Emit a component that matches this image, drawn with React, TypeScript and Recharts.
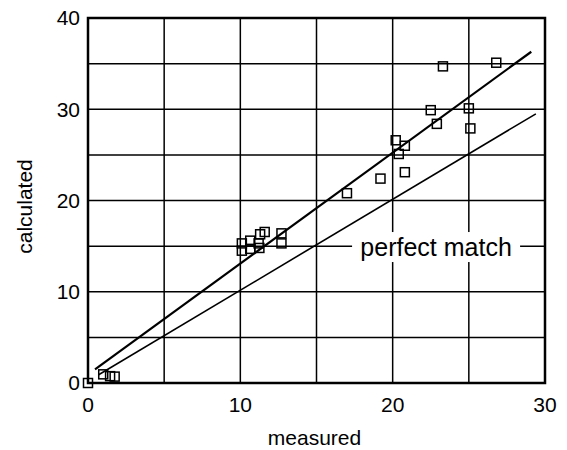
import { ScatterChart, Scatter, XAxis, YAxis, CartesianGrid, ReferenceArea, ReferenceDot } from "recharts";

// 측정값 vs 계산값
const xTicks = [0, 5, 10, 15, 20, 25, 30];
const yTicks = [0, 5, 10, 15, 20, 25, 30, 35, 40];

const measuredX = [0, 1.0, 1.45, 1.75, 10.1, 10.1, 10.65, 10.65, 11.2, 11.25, 11.3, 11.6, 12.7, 12.7, 17.0, 19.2, 20.8, 20.4, 20.2, 20.8, 22.5, 22.9, 23.3, 25.0, 25.1, 26.8];
const calculatedY = [0, 0.95, 0.75, 0.7, 15.3, 14.5, 15.6, 14.7, 15.3, 14.8, 16.3, 16.55, 16.4, 15.3, 20.8, 22.4, 23.1, 25.1, 26.6, 26.0, 29.9, 28.4, 34.7, 30.1, 27.9, 35.1];
const points = measuredX.map((x, i) => ({ x, y: calculatedY[i] }));

const fitLine = [{ x: 0.46, y: 1.5 }, { x: 29.1, y: 36.3 }];
const perfectLine = [{ x: 0.7, y: 0.9 }, { x: 29.4, y: 29.5 }];
const perfectLabel = { x: 22.85, y: 14.9, text: "perfect match" };

const font = "'Liberation Sans', Arial, sans-serif";

const Square = (p: any) => (
  <rect x={p.cx - 4.5} y={p.cy - 4.5} width={9} height={9} fill="none" stroke="#000" strokeWidth={1.5} />
);
const NoDot = () => <g />;

export default function App() {
  return (
    <div style={{ position: "absolute", left: 0, top: 0 }}>
      <ScatterChart width={567} height={450} margin={{ top: 18, right: 22, bottom: 7, left: 0 }} style={{ fontFamily: font }}>
        <CartesianGrid stroke="#000" strokeWidth={1.5} strokeOpacity={1} />
        <XAxis
          type="number"
          dataKey="x"
          domain={[0, 30]}
          ticks={xTicks}
          axisLine={false}
          tickLine={false}
          height={60}
          tickMargin={8}
          tickFormatter={(v: number) => (v % 10 === 0 ? String(v) : "")}
          tick={{ fontSize: 21, fill: "#000", fontFamily: font }}
          label={{
            content: ({ viewBox }: any) => (
              <text x={viewBox.x + viewBox.width / 2 - 2} y={437} textAnchor="middle" dominantBaseline="central" fontSize={21} fill="#000" fontFamily={font}>
                measured
              </text>
            ),
          }}
        />
        <YAxis
          type="number"
          dataKey="y"
          domain={[0, 40]}
          ticks={yTicks}
          axisLine={false}
          tickLine={false}
          width={88}
          tickMargin={2}
          tickFormatter={(v: number) => (v % 10 === 0 ? String(v) : "")}
          tick={{ fontSize: 21, fill: "#000", fontFamily: font }}
          label={{
            content: ({ viewBox }: any) => {
              const cx = viewBox.x + 24;
              const cy = viewBox.y + viewBox.height / 2 + 6;
              return (
                <text x={cx} y={cy} transform={`rotate(-90 ${cx} ${cy})`} textAnchor="middle" dominantBaseline="central" fontSize={21} fill="#000" fontFamily={font}>
                  calculated
                </text>
              );
            },
          }}
        />
        <ReferenceArea x1={0} x2={30} y1={0} y2={40} fill="none" fillOpacity={0} stroke="#000" strokeWidth={2.5} strokeOpacity={1} />
        <Scatter data={perfectLine} line={{ stroke: "#000", strokeWidth: 1.6 }} shape={NoDot} isAnimationActive={false} />
        <Scatter data={fitLine} line={{ stroke: "#000", strokeWidth: 2.2 }} shape={NoDot} isAnimationActive={false} />
        <ReferenceDot
          x={perfectLabel.x}
          y={perfectLabel.y}
          r={0}
          shape={(p: any) => (
            <g>
              <rect x={p.cx - 84} y={p.cy - 15} width={168} height={30} fill="#fff" />
              <text x={p.cx} y={p.cy} textAnchor="middle" dominantBaseline="central" fontSize={25} fill="#000" fontFamily={font}>
                {perfectLabel.text}
              </text>
            </g>
          )}
        />
        <Scatter data={points} shape={Square} isAnimationActive={false} />
      </ScatterChart>
    </div>
  );
}
